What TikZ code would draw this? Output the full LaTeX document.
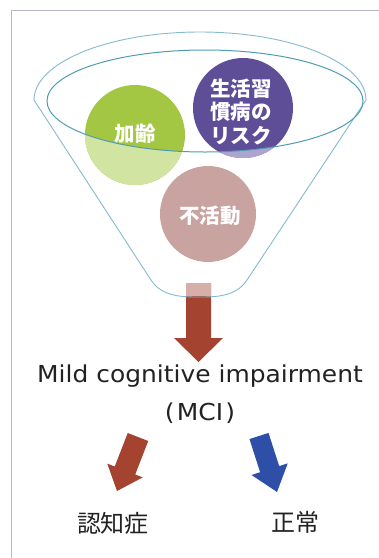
\documentclass[tikz,border=0pt]{standalone}
\usepackage{fontspec}
\newfontfamily\jp{Noto Sans CJK JP}
\newfontfamily\latinsans{DejaVu Sans}
\usetikzlibrary{calc}

\definecolor{ink}{HTML}{222222}
\definecolor{framegray}{HTML}{B4B8C8}
\definecolor{funnelblue}{HTML}{86B9D2}
\definecolor{rimblue}{HTML}{4F9DB5}
\definecolor{agegreen}{HTML}{A3C742}
\definecolor{agelight}{HTML}{D2E4A2}
\definecolor{riskpurple}{HTML}{5D4E97}
\definecolor{risklight}{HTML}{ADA5CF}
\definecolor{inactpink}{HTML}{C8A3A0}
\definecolor{brickred}{HTML}{A4432F}
\definecolor{bricklight}{HTML}{D6B0A8}
\definecolor{outcomeblue}{HTML}{2D4FA8}

% block arrow: tail, tip, colour, shaft half width, head half width, head length
\newcommand\blockarrow[6]{%
  \coordinate (ba-s) at ($(#2)!#6!(#1)$);
  \fill[#3] ($(#1)!#4!90:(#2)$) -- ($(ba-s)!#4!90:(#2)$) -- ($(ba-s)!#5!90:(#2)$)
    -- (#2) -- ($(ba-s)!#5!-90:(#2)$) -- ($(ba-s)!#4!-90:(#2)$)
    -- ($(#1)!#4!-90:(#2)$) -- cycle;
}
\newcommand\widetext[1]{\scalebox{1.07}[1]{#1}}

\begin{document}
\begin{tikzpicture}[x=1pt,y=-1pt,
  frameline/.style={draw=framegray, line width=1pt},
  funnelline/.style={draw=funnelblue, line width=0.9pt},
  rimline/.style={draw=rimblue, line width=1pt},
  ball/.style={font=\jp\bfseries\fontsize{20.5}{23.5}\selectfont, text=white, align=center, inner sep=0pt},
  enlabel/.style={font=\latinsans\fontsize{23.3}{28}\selectfont, text=ink, inner sep=0pt},
  result/.style={font=\jp\fontsize{24}{28}\selectfont, text=ink, inner sep=0pt}]

\useasboundingbox (0,0) rectangle (379,558);
\fill[white] (0,0) rectangle (379,558);

% page frame
\draw[frameline] (11,558) -- (11,10) -- (379,10);

% risk factors
\coordinate (cAge) at (135,135);
\coordinate (cRisk) at (243,108);
\coordinate (cInact) at (208,214);
\fill[agegreen] (cAge) circle[radius=50];
\fill[riskpurple] (cRisk) circle[radius=50];
\fill[inactpink] (cInact) circle[radius=48];
\begin{scope}
  \clip (0,101) -- (47,101) arc[start angle=180, end angle=0, x radius=158, y radius=51]
    -- (379,101) -- (379,558) -- (0,558) -- cycle;
  \fill[agelight] (cAge) circle[radius=50];
  \fill[risklight] (cRisk) circle[radius=50];
\end{scope}
\node[ball] (age) at (135,134) {加齢};
\node[ball] (risk) at (241,112) {生活習\\慣病の\\リスク};
\node[ball] (inact) at (210,216) {不活動};

% arrow out of the funnel
\coordinate (downTail) at (198.5,283);
\coordinate (downTip) at (198.5,362);
\blockarrow{downTail}{downTip}{brickred}{12.5pt}{24.5pt}{24pt}
\fill[bricklight] (186,283) rectangle (211,296);

% funnel
\draw[funnelline] (34,100) arc[start angle=180, end angle=360, x radius=166, y radius=68]
  -- (247,280) .. controls (236,297) and (215,297) .. (199,297)
  .. controls (183,297) and (162,297) .. (151,280) -- cycle;
\draw[rimline] (205,101) ellipse[x radius=158, y radius=51];

% MCI
\node[enlabel, anchor=base] (mci) at (200,382) {\widetext{Mild cognitive impairment}};
\node[enlabel, anchor=base] (mciabbr) at (200,420) {\widetext{(\hspace{2pt}MCI\hspace{2pt})}};

% outcomes
\node[result] (dementia) at (113,523.5) {認知症};
\node[result] (normal) at (295,522) {正常};
\coordinate (leftTail) at (138,437);
\coordinate (leftTip) at (117,491);
\coordinate (rightTail) at (259,436);
\coordinate (rightTip) at (277,492);
\blockarrow{leftTail}{leftTip}{brickred}{11pt}{19pt}{22pt}
\blockarrow{rightTail}{rightTip}{outcomeblue}{10pt}{19pt}{24pt}

\end{tikzpicture}
\end{document}
